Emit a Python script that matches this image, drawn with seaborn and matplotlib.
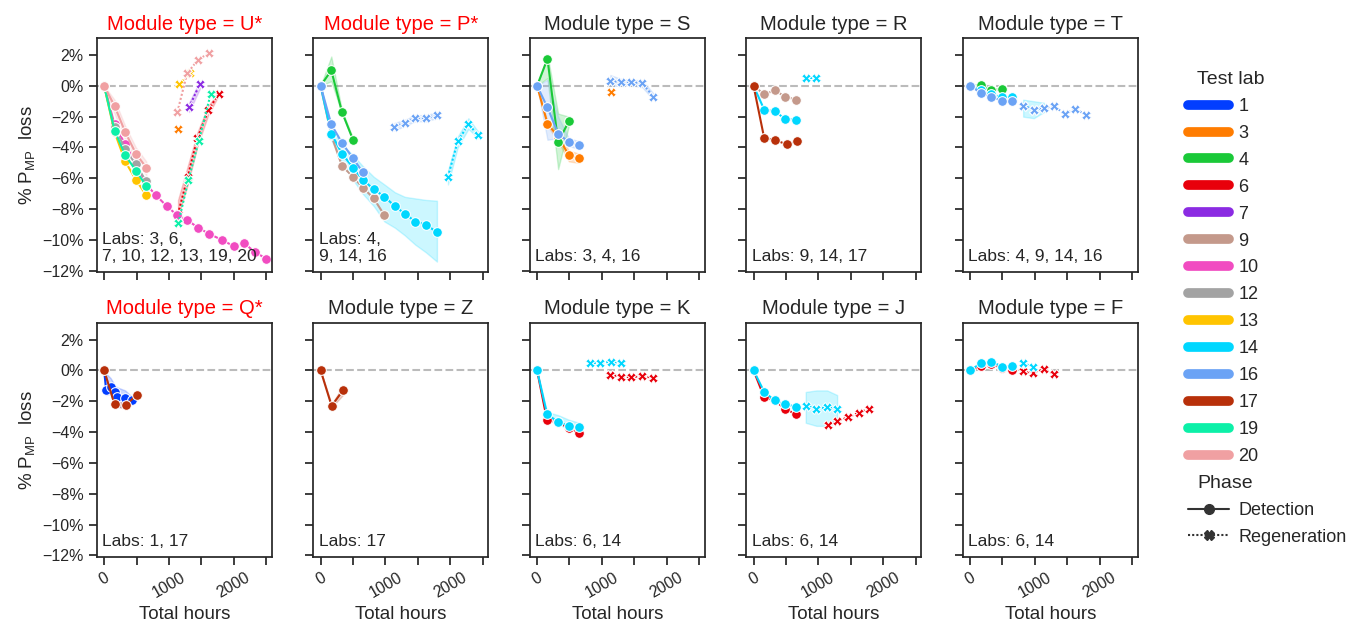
import numpy as np
import pandas as pd
import matplotlib.pyplot as plt
import seaborn as sns
from matplotlib.offsetbox import HPacker
from matplotlib.ticker import MultipleLocator, FuncFormatter, PercentFormatter

# categories / colours
labs = ["1", "3", "4", "6", "7", "9", "10", "12", "13", "14", "16", "17", "19", "20"]
lab_colors = ["#023eff", "#ff7c00", "#1ac938", "#e8000b", "#8b2be2", "#c4998b", "#f14cc1",
              "#a3a3a3", "#ffc400", "#00d7ff", "#6ba3f5", "#b8300a", "#0cf0a8", "#f0a0a2"]
modules = ["U*", "P*", "S", "R", "T", "Q*", "Z", "K", "J", "F"]
lab_notes = ["Labs: 3, 6,\n7, 10, 12, 13, 19, 20", "Labs: 4,\n9, 14, 16", "Labs: 3, 4, 16",
             "Labs: 9, 14, 17", "Labs: 4, 9, 14, 16", "Labs: 1, 17", "Labs: 17",
             "Labs: 6, 14", "Labs: 6, 14", "Labs: 6, 14"]

# ---- Module U* ----
u_det_h = [0, 160, 325, 490, 650]
u_20_det = [0, -1.3, -3.0, -4.4, -5.3]
u_20_det_lo = [0, -1.8, -3.5, -4.9, -5.8]
u_20_det_hi = [0, -0.9, -2.6, -4.0, -4.9]
u_13_det = [0, -3.0, -4.9, -6.1, -7.1]
u_19_det = [0, -2.9, -4.5, -5.5, -6.5]
u_12_det = [0, -2.7, -4.1, -5.1, -6.2]
u_10_det_h = [0, 160, 325, 490, 650, 800, 965, 1130, 1280, 1450, 1620, 1820, 2000, 2160, 2330, 2500, 2660]
u_10_det = [0, -2.5, -3.8, -5.0, -6.4, -7.1, -7.8, -8.4, -8.7, -9.2, -9.6, -10.0, -10.4, -10.2, -10.8, -11.2, -11.5]
u_20_reg_h = [1130, 1280, 1450, 1615]
u_20_reg = [-1.7, 0.8, 1.7, 2.1]
u_13_reg_h = [1160, 1320]
u_13_reg = [0.1, 0.8]
u_3_reg_h = [1145]
u_3_reg = [-2.8]
u_7_reg_h = [1310, 1475]
u_7_reg = [-1.4, 0.1]
u_7_reg_lo = [-1.7, -0.2]
u_7_reg_hi = [-1.1, 0.3]
u_6_reg_h = [1140, 1290, 1440, 1605, 1770]
u_6_reg = [-8.3, -5.9, -3.4, -1.6, -0.5]
u_6_reg_lo = [-8.5, -6.4, -3.9, -1.9, -0.6]
u_6_reg_hi = [-7.4, -5.2, -3.0, -1.3, -0.4]
u_19_reg_h = [1145, 1300, 1460, 1645]
u_19_reg = [-8.9, -6.1, -3.6, -0.5]

# ---- Module P* ----
p_det_h = [0, 165, 330, 500, 650, 820, 985, 1145, 1300, 1460, 1625, 1795]
p_4_det = [0, 1.0, -1.7, -3.5]
p_4_det_lo = [0, 0.3, -1.8, -3.6]
p_4_det_hi = [0, 1.9, -1.6, -3.4]
p_16_det = [0, -2.5, -3.7, -4.7, -5.6]
p_14_det = [0, -3.1, -4.4, -5.3, -6.1, -6.7, -7.2, -7.8, -8.3, -8.8, -9.0, -9.5]
p_14_det_lo = [0, -3.5, -5.0, -6.1, -7.0, -7.8, -8.8, -9.2, -9.7, -10.3, -10.8, -11.4]
p_14_det_hi = [0, -2.7, -3.8, -4.5, -5.2, -5.9, -6.4, -6.9, -7.2, -7.3, -7.4, -7.45]
p_9_det = [0, -3.2, -5.2, -5.9, -6.6, -7.3, -8.4]
p_16_reg_h = [1140, 1300, 1460, 1625, 1795]
p_16_reg = [-2.65, -2.4, -2.1, -2.1, -1.9]
p_16_reg_lo = [-2.9, -2.6, -2.3, -2.3, -2.1]
p_16_reg_hi = [-2.4, -2.2, -1.9, -1.9, -1.7]
p_14_reg_h = [1965, 2115, 2280, 2435]
p_14_reg = [-5.9, -3.6, -2.5, -3.2]
p_14_reg_lo = [-6.4, -4.0, -2.8, -3.4]
p_14_reg_hi = [-5.5, -3.3, -2.1, -3.0]

# ---- Module S ----
s_det_h = [0, 160, 325, 490, 650]
s_4_det = [0, 1.75, -3.65, -2.3]
s_4_det_lo = [0, 0.5, -5.4, -2.6]
s_4_det_hi = [0, 2.0, -1.8, -2.0]
s_16_det = [0, -1.4, -3.1, -3.65, -3.85]
s_16_det_lo = [0, -3.5, -3.4, -3.9, -4.1]
s_16_det_hi = [0, 0.4, -2.0, -3.4, -3.6]
s_3_det = [0, -2.45, -3.3, -4.5, -4.7]
s_3_det_lo = [0, -2.6, -3.6, -4.9, -5.0]
s_3_det_hi = [0, -2.3, -3.0, -4.2, -4.4]
s_16_reg_h = [1130, 1290, 1450, 1625, 1795]
s_16_reg = [0.3, 0.25, 0.25, 0.15, -0.7]
s_16_reg_lo = [0.0, 0.0, 0.05, -0.1, -0.9]
s_16_reg_hi = [0.7, 0.45, 0.4, 0.35, -0.5]
s_3_reg_h = [1145]
s_3_reg = [-0.4]

# ---- Module R ----
r_det_h = [0, 165, 325, 490, 655]
r_9_det = [0, -0.55, -0.3, -0.7, -0.9]
r_14_det = [0, -1.55, -1.65, -2.15, -2.2]
r_17_det_h = [0, 165, 325, 510, 675]
r_17_det = [0, -3.4, -3.5, -3.8, -3.6]
r_14_reg_h = [805, 970]
r_14_reg = [0.5, 0.5]

# ---- Module T ----
t_det_h = [0, 165, 330, 500, 650]
t_4_det = [0, 0.05, -0.3, -0.2]
t_14_det = [0, -0.3, -0.55, -0.75, -0.75]
t_16_det = [0, -0.45, -0.7, -1.0, -1.0]
t_reg_h = [820, 985, 1140, 1300, 1460, 1625, 1795]
t_14_reg = [-1.3, -1.55, -1.45]
t_14_reg_lo = [-2.0, -2.1, -1.7]
t_14_reg_hi = [-0.9, -1.0, -1.1]
t_16_reg = [-1.3, -1.55, -1.45, -1.3, -1.85, -1.5, -1.9]

# ---- Module Q* ----
q_1_det_h = [0, 30, 100, 170, 200, 325, 425]
q_1_det = [0, -1.25, -1.1, -1.4, -1.7, -1.8, -1.95]
q_1_det_lo = [0, -1.6, -1.5, -2.4, -2.4, -2.3, -2.1]
q_1_det_hi = [0, -0.2, -0.5, -1.0, -1.1, -1.3, -1.7]
q_17_det_h = [0, 160, 330, 505]
q_17_det = [0, -2.2, -2.25, -1.6]
q_17_det_lo = [0, -2.3, -2.5, -1.7]
q_17_det_hi = [0, -2.1, -2.0, -1.5]

# ---- Module Z ----
z_17_det_h = [0, 170, 345]
z_17_det = [0, -2.3, -1.3]
z_17_det_lo = [0, -2.4, -1.6]
z_17_det_hi = [0, -2.2, -1.0]

# ---- Module K ----
k_det_h = [0, 155, 325, 490, 650]
k_6_det = [0, -3.25, -3.35, -3.75, -4.05]
k_14_det = [0, -2.85, -3.35, -3.6, -3.7]
k_14_det_lo = [0, -3.0, -3.5, -3.8, -3.9]
k_14_det_hi = [0, -2.7, -2.9, -3.2, -3.4]
k_14_reg_h = [810, 975, 1140, 1295]
k_14_reg = [0.45, 0.5, 0.55, 0.45]
k_6_reg_h = [1130, 1290, 1450, 1625, 1795]
k_6_reg = [-0.3, -0.4, -0.45, -0.35, -0.5]

# ---- Module J ----
j_det_h = [0, 165, 325, 490, 655]
j_6_det = [0, -1.75, -1.95, -2.5, -2.85]
j_14_det = [0, -1.4, -1.95, -2.2, -2.35]
j_14_reg_h = [805, 970, 1135, 1290]
j_14_reg = [-2.3, -2.5, -2.4, -2.5]
j_14_reg_lo = [-3.4, -3.6, -3.6, -3.4]
j_14_reg_hi = [-1.4, -1.3, -1.3, -1.6]
j_6_reg_h = [1150, 1290, 1455, 1620, 1780]
j_6_reg = [-3.55, -3.3, -3.05, -2.75, -2.5]

# ---- Module F ----
f_det_h = [0, 165, 330, 500, 650]
f_14_det = [0, 0.45, 0.55, 0.25, 0.3]
f_6_det = [0, 0.3, 0.4, 0.15, 0.0]
f_14_reg_h = [820, 975]
f_14_reg = [0.45, 0.25]
f_6_reg_h = [820, 975, 1140, 1295]
f_6_reg = [-0.05, -0.2, 0.1, -0.25]

rows = []


def add(module, lab, phase, hours, loss, lo=None, hi=None):
    # lo/hi are the band edges; median of (lo, loss, hi) gives back loss
    for i, v in enumerate(loss):
        vals = [v] if lo is None else [lo[i], v, hi[i]]
        for y in vals:
            rows.append((module, lab, phase, hours[i], y))


D, R = "Detection", "Regeneration"
add("U*", "20", D, u_det_h, u_20_det, u_20_det_lo, u_20_det_hi)
add("U*", "13", D, u_det_h, u_13_det)
add("U*", "19", D, u_det_h, u_19_det)
add("U*", "12", D, u_det_h, u_12_det)
add("U*", "10", D, u_10_det_h, u_10_det)
add("U*", "20", R, u_20_reg_h, u_20_reg)
add("U*", "13", R, u_13_reg_h, u_13_reg)
add("U*", "3", R, u_3_reg_h, u_3_reg)
add("U*", "7", R, u_7_reg_h, u_7_reg, u_7_reg_lo, u_7_reg_hi)
add("U*", "6", R, u_6_reg_h, u_6_reg, u_6_reg_lo, u_6_reg_hi)
add("U*", "19", R, u_19_reg_h, u_19_reg)

add("P*", "4", D, p_det_h, p_4_det, p_4_det_lo, p_4_det_hi)
add("P*", "16", D, p_det_h, p_16_det)
add("P*", "14", D, p_det_h, p_14_det, p_14_det_lo, p_14_det_hi)
add("P*", "9", D, p_det_h, p_9_det)
add("P*", "16", R, p_16_reg_h, p_16_reg, p_16_reg_lo, p_16_reg_hi)
add("P*", "14", R, p_14_reg_h, p_14_reg, p_14_reg_lo, p_14_reg_hi)

add("S", "4", D, s_det_h, s_4_det, s_4_det_lo, s_4_det_hi)
add("S", "16", D, s_det_h, s_16_det, s_16_det_lo, s_16_det_hi)
add("S", "3", D, s_det_h, s_3_det, s_3_det_lo, s_3_det_hi)
add("S", "16", R, s_16_reg_h, s_16_reg, s_16_reg_lo, s_16_reg_hi)
add("S", "3", R, s_3_reg_h, s_3_reg)

add("R", "9", D, r_det_h, r_9_det)
add("R", "14", D, r_det_h, r_14_det)
add("R", "17", D, r_17_det_h, r_17_det)
add("R", "14", R, r_14_reg_h, r_14_reg)

add("T", "4", D, t_det_h, t_4_det)
add("T", "14", D, t_det_h, t_14_det)
add("T", "16", D, t_det_h, t_16_det)
add("T", "14", R, t_reg_h, t_14_reg, t_14_reg_lo, t_14_reg_hi)
add("T", "16", R, t_reg_h, t_16_reg)

add("Q*", "1", D, q_1_det_h, q_1_det, q_1_det_lo, q_1_det_hi)
add("Q*", "17", D, q_17_det_h, q_17_det, q_17_det_lo, q_17_det_hi)

add("Z", "17", D, z_17_det_h, z_17_det, z_17_det_lo, z_17_det_hi)

add("K", "6", D, k_det_h, k_6_det)
add("K", "14", D, k_det_h, k_14_det, k_14_det_lo, k_14_det_hi)
add("K", "14", R, k_14_reg_h, k_14_reg)
add("K", "6", R, k_6_reg_h, k_6_reg)

add("J", "6", D, j_det_h, j_6_det)
add("J", "14", D, j_det_h, j_14_det)
add("J", "14", R, j_14_reg_h, j_14_reg, j_14_reg_lo, j_14_reg_hi)
add("J", "6", R, j_6_reg_h, j_6_reg)

add("F", "14", D, f_det_h, f_14_det)
add("F", "6", D, f_det_h, f_6_det)
add("F", "14", R, f_14_reg_h, f_14_reg)
add("F", "6", R, f_6_reg_h, f_6_reg)

df = pd.DataFrame(rows, columns=["Module type", "Test lab", "Phase", "Total hours", "loss"])

sns.set_theme(style="ticks")
plt.rcParams["font.family"] = ["Liberation Sans", "DejaVu Sans"]
plt.rcParams["legend.fontsize"] = 13
plt.rcParams["legend.title_fontsize"] = 14
plt.rcParams["legend.handlelength"] = 2.3
plt.rcParams["legend.handletextpad"] = 0.5
plt.rcParams["legend.labelspacing"] = 0.55
plt.rcParams["xtick.labelsize"] = 11.5
plt.rcParams["ytick.labelsize"] = 11.5
plt.rcParams["axes.labelsize"] = 13.5

g = sns.relplot(data=df, x="Total hours", y="loss", col="Module type", col_order=modules,
                col_wrap=5, hue="Test lab", hue_order=labs, palette=dict(zip(labs, lab_colors)),
                style="Phase", style_order=[D, R], markers={D: "o", R: "X"},
                dashes={D: "", R: (1, 1)}, kind="line", estimator="median",
                errorbar=("pi", 100), markersize=7, linewidth=1.5,
                height=2.5, aspect=0.75, facet_kws={"despine": False})

g.set_titles("Module type = {col_name}", size=14.5)
g.set_axis_labels("Total hours", "% $\\mathregular{P_{MP}}$  loss")

for ax, mod, note in zip(g.axes.flat, modules, lab_notes):
    ax.axhline(0, color="#bbbbbb", ls="--", lw=1.5, zorder=0)
    ax.set_xlim(-110, 2590)
    ax.set_ylim(-12.1, 3.1)
    ax.xaxis.set_major_locator(MultipleLocator(500))
    ax.xaxis.set_major_formatter(FuncFormatter(lambda v, p: f"{v:.0f}" if v % 1000 == 0 else ""))
    ax.yaxis.set_major_locator(MultipleLocator(2))
    ax.yaxis.set_major_formatter(PercentFormatter(100, decimals=0))
    ax.text(0.03, 0.035, note, transform=ax.transAxes, fontsize=12.5, va="bottom", ha="left")
    if "*" in mod:
        ax.title.set_color("red")
    ax.tick_params(axis="x", labelrotation=30)

fig = g.figure
fig.set_size_inches(13.53, 6.23)
fig.subplots_adjust(left=0.0717, right=0.841, top=0.939, bottom=0.106, wspace=0.237, hspace=0.214)

leg = g._legend
for h, t in zip(leg.legend_handles, leg.texts):
    if t.get_text() in labs:
        h.set_linewidth(7)
        h.set_solid_capstyle("round")

# pull the two sub-titles to the left, over the handle column
for hp in leg.findobj(HPacker):
    parts = hp.get_children()
    if len(parts) != 2:
        continue
    draw_area, text_area = parts
    kids = text_area.get_children()
    if kids and hasattr(kids[0], "get_text") and kids[0].get_text() in ("Test lab", "Phase"):
        draw_area.set_width(0)
        kids[0].set_fontsize(14)

leg.set_bbox_to_anchor((0.866, 0.505), transform=fig.transFigure)
leg.set_loc("center left")

fig.savefig("out.png", dpi=100)
